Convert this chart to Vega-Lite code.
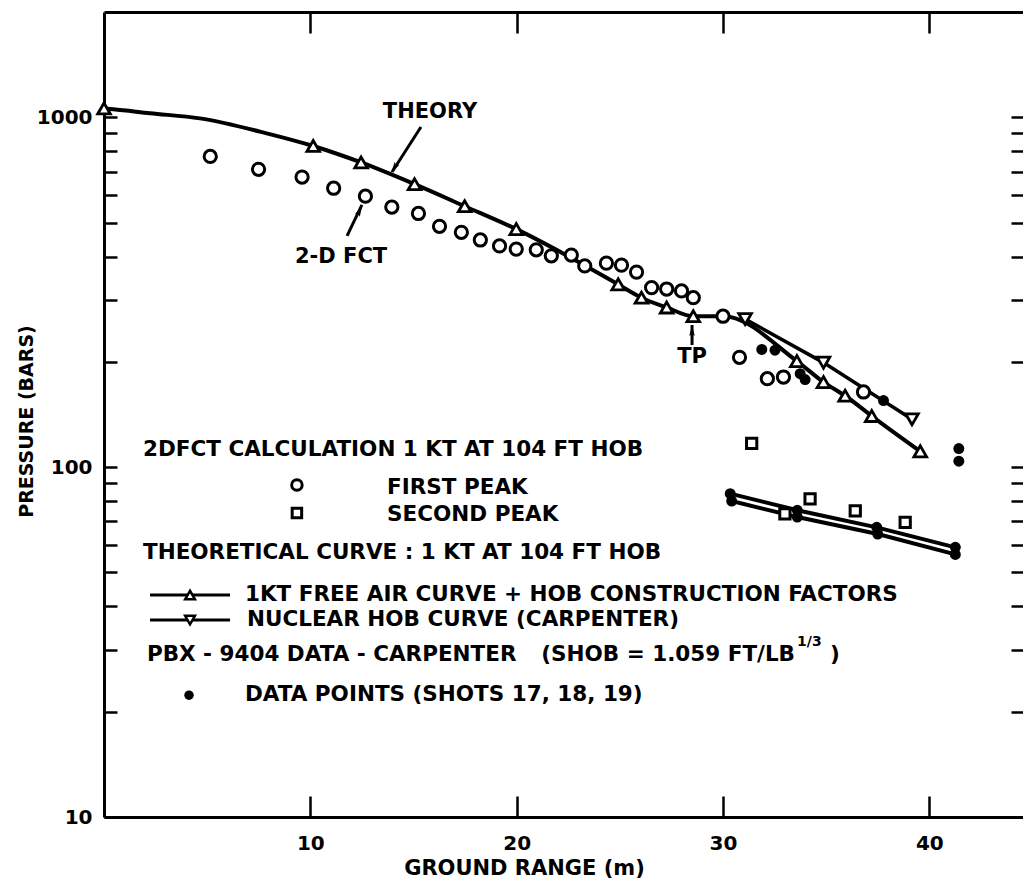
{
  "$schema": "https://vega.github.io/schema/vega-lite/v6.json",
  "width": 919,
  "height": 805,
  "autosize": {"type": "none"},
  "padding": {"left": 104, "top": 12, "right": 0, "bottom": 63},
  "background": "white",
  "config": {
    "view": {"stroke": null},
    "font": "DejaVu Sans",
    "axis": {
      "grid": false, "domainColor": "black", "domainWidth": 3, "tickColor": "black", "tickWidth": 2.5,
      "labelColor": "black", "labelFont": "DejaVu Sans", "labelFontWeight": "bold", "labelFontSize": 20,
      "titleColor": "black", "titleFont": "DejaVu Sans", "titleFontWeight": "bold", "titleFontSize": 20
    },
    "text": {"font": "DejaVu Sans", "fontWeight": "bold", "fontSize": 21.5, "color": "black"}
  },
  "datasets": {
    "first": [
      {"x": 5.15, "y": 773}, {"x": 7.49, "y": 710}, {"x": 9.6, "y": 675}, {"x": 11.13, "y": 627},
      {"x": 12.67, "y": 595}, {"x": 13.95, "y": 554}, {"x": 15.24, "y": 531}, {"x": 16.26, "y": 488},
      {"x": 17.32, "y": 469}, {"x": 18.24, "y": 446}, {"x": 19.17, "y": 429}, {"x": 19.98, "y": 420},
      {"x": 20.95, "y": 418}, {"x": 21.68, "y": 402}, {"x": 22.65, "y": 404}, {"x": 23.3, "y": 376},
      {"x": 24.35, "y": 383}, {"x": 25.08, "y": 378}, {"x": 25.81, "y": 361}, {"x": 26.54, "y": 326},
      {"x": 27.27, "y": 323}, {"x": 27.99, "y": 319}, {"x": 28.56, "y": 305}, {"x": 30.0, "y": 270},
      {"x": 30.8, "y": 206}, {"x": 32.15, "y": 179}, {"x": 32.93, "y": 181}, {"x": 36.81, "y": 164}
    ],
    "second": [
      {"x": 31.39, "y": 117}, {"x": 33.0, "y": 73.5}, {"x": 34.22, "y": 81.1}, {"x": 36.41, "y": 75}, {"x": 38.83, "y": 69.5}
    ],
    "dots": [
      {"x": 31.88, "y": 217}, {"x": 32.52, "y": 216}, {"x": 33.74, "y": 185}, {"x": 33.98, "y": 178},
      {"x": 37.78, "y": 155}, {"x": 41.43, "y": 113}, {"x": 41.43, "y": 104},
      {"x": 30.35, "y": 84}, {"x": 30.42, "y": 80}, {"x": 33.6, "y": 75.3}, {"x": 33.6, "y": 72},
      {"x": 37.45, "y": 67.3}, {"x": 37.5, "y": 64.4}, {"x": 41.26, "y": 59}, {"x": 41.26, "y": 56.3}
    ],
    "pbx": [
      {"s": "upper", "x": 30.35, "y": 84}, {"s": "upper", "x": 33.6, "y": 75.3}, {"s": "upper", "x": 37.45, "y": 67.3}, {"s": "upper", "x": 41.26, "y": 59},
      {"s": "lower", "x": 30.42, "y": 80}, {"s": "lower", "x": 33.6, "y": 72}, {"s": "lower", "x": 37.5, "y": 64.4}, {"s": "lower", "x": 41.26, "y": 56.3}
    ],
    "faLine": [
      {"x": 0, "y": 1060}, {"x": 0.45, "y": 1054}, {"x": 2.23, "y": 1027}, {"x": 4.65, "y": 993}, {"x": 7.885, "y": 900},
      {"x": 10.14, "y": 828}, {"x": 12.46, "y": 743}, {"x": 15.05, "y": 644}, {"x": 17.48, "y": 557},
      {"x": 19.98, "y": 479}, {"x": 24.92, "y": 333}, {"x": 26.05, "y": 305}, {"x": 27.27, "y": 286},
      {"x": 28.56, "y": 270}, {"x": 30.0, "y": 270}, {"x": 33.58, "y": 201}, {"x": 34.87, "y": 175},
      {"x": 35.92, "y": 160}, {"x": 37.21, "y": 140}, {"x": 39.56, "y": 111}
    ],
    "faTri": [
      {"x": 0, "y": 1060}, {"x": 10.14, "y": 828}, {"x": 12.46, "y": 743}, {"x": 15.05, "y": 644},
      {"x": 17.48, "y": 557}, {"x": 19.98, "y": 479}, {"x": 24.92, "y": 333}, {"x": 26.05, "y": 305},
      {"x": 27.27, "y": 286}, {"x": 28.56, "y": 270}, {"x": 33.58, "y": 201}, {"x": 34.87, "y": 175},
      {"x": 35.92, "y": 160}, {"x": 37.21, "y": 140}, {"x": 39.56, "y": 111}
    ],
    "nh": [
      {"x": 31.07, "y": 265}, {"x": 34.87, "y": 199}, {"x": 39.16, "y": 137}
    ],
    "arrows": [
      {"x": 15.36, "y": 938, "x2": 13.96, "y2": 698},
      {"x": 11.78, "y": 458, "x2": 12.5, "y2": 561.6},
      {"x": 28.5, "y": 223.4, "x2": 28.5, "y2": 254.8},
      {"x": 2.23, "y": 43.1, "x2": 6.11, "y2": 43.1},
      {"x": 2.23, "y": 36.55, "x2": 6.11, "y2": 36.55}
    ],
    "notes": [
      {"t": "THEORY", "x": 15.8, "y": 1035},
      {"t": "2-D FCT", "x": 11.49, "y": 398.6},
      {"t": "TP", "x": 28.5, "y": 206.5}
    ],
    "legendText": [
      {"t": "2DFCT CALCULATION 1 KT AT 104 FT HOB", "x": 1.89, "y": 111.9},
      {"t": "FIRST PEAK", "x": 13.72, "y": 87.2},
      {"t": "SECOND PEAK", "x": 13.72, "y": 72.95},
      {"t": "THEORETICAL CURVE : 1 KT AT 104 FT HOB", "x": 1.89, "y": 56.8},
      {"t": "1KT FREE AIR CURVE + HOB CONSTRUCTION FACTORS", "x": 6.83, "y": 43.1},
      {"t": "NUCLEAR HOB CURVE (CARPENTER)", "x": 6.93, "y": 36.55},
      {"t": "PBX - 9404 DATA - CARPENTER", "x": 2.08, "y": 29.0},
      {"t": ")", "x": 35.19, "y": 29.0},
      {"t": "DATA POINTS (SHOTS 17, 18, 19)", "x": 6.83, "y": 22.3}
    ],
    "legendTextRight": [
      {"t": "(SHOB = 1.059 FT/LB", "x": 33.49, "y": 29.0}
    ],
    "superscript": [
      {"t": "1/3", "x": 33.59, "y": 31.6}
    ]
  },
  "encoding": {
    "x": {"field": "x", "type": "quantitative", "scale": {"domain": [0, 44.54], "nice": false, "zero": false}, "axis": null},
    "y": {"field": "y", "type": "quantitative", "scale": {"type": "log", "domain": [10, 2000], "nice": false}, "axis": null}
  },
  "layer": [
    {
      "data": {"name": "pbx"},
      "mark": {"type": "line", "color": "black", "strokeWidth": 4},
      "encoding": {
        "detail": {"field": "s"},
        "x": {"field": "x", "type": "quantitative", "scale": {"domain": [0, 44.54], "nice": false, "zero": false},
          "axis": {"orient": "bottom", "values": [10, 20, 30, 40], "tickSize": -21, "labelPadding": 37,
            "title": "GROUND RANGE (m)", "titleX": 420, "titleY": 51, "titleBaseline": "middle", "titleAlign": "center",
            "titleFontSize": 21, "labelFlush": false, "labelOverlap": false}},
        "y": {"field": "y", "type": "quantitative", "scale": {"type": "log", "domain": [10, 2000], "nice": false},
          "axis": {"orient": "left", "values": [10, 20, 30, 40, 50, 60, 70, 80, 90, 100, 200, 300, 400, 500, 600, 700, 800, 900, 1000],
            "tickSize": -13, "labelPadding": 25, "labelOverlap": false,
            "labelExpr": "datum.value == 1000 ? '1000' : datum.value == 100 ? '100' : datum.value == 10 ? '10' : ''",
            "title": "PRESSURE (BARS)", "titleFontSize": 19, "titleX": -78, "titleY": 409, "titleAngle": -90, "titleAlign": "center", "titleBaseline": "middle"}}
      }
    },
    {
      "data": {"name": "faLine"},
      "mark": {"type": "line", "color": "black", "strokeWidth": 4, "interpolate": "monotone"},
      "encoding": {
        "x": {"field": "x", "type": "quantitative", "scale": {"domain": [0, 44.54], "nice": false, "zero": false},
          "axis": {"orient": "top", "values": [10, 20, 30, 40], "tickSize": -21, "labels": false, "title": null}},
        "y": {"field": "y", "type": "quantitative", "scale": {"type": "log", "domain": [10, 2000], "nice": false},
          "axis": {"orient": "right", "values": [20, 30, 40, 50, 60, 70, 80, 90, 100, 200, 300, 400, 500, 600, 700, 800, 900, 1000],
            "tickSize": -12, "labels": false, "domain": false, "title": null}}
      }
    },
    {
      "data": {"name": "nh"},
      "mark": {"type": "line", "color": "black", "strokeWidth": 3.5},
      "encoding": {}
    },
    {
      "data": {"name": "arrows"},
      "mark": {"type": "rule", "color": "black", "strokeWidth": 3},
      "encoding": {"x2": {"field": "x2"}, "y2": {"field": "y2"}}
    },
    {
      "data": {"name": "first"},
      "mark": {"type": "point", "shape": "circle", "filled": true, "fill": "white", "stroke": "black", "strokeWidth": 3, "size": 150, "opacity": 1}
    },
    {
      "data": {"values": [{"x": 9.35, "y": 88.9}]},
      "mark": {"type": "point", "shape": "circle", "filled": true, "fill": "white", "stroke": "black", "strokeWidth": 3, "size": 110, "opacity": 1}
    },
    {
      "data": {"name": "second"},
      "mark": {"type": "point", "shape": "square", "filled": true, "fill": "white", "stroke": "black", "strokeWidth": 3, "size": 105, "opacity": 1}
    },
    {
      "data": {"values": [{"x": 9.35, "y": 73.9}]},
      "mark": {"type": "point", "shape": "square", "filled": true, "fill": "white", "stroke": "black", "strokeWidth": 3, "size": 90, "opacity": 1}
    },
    {
      "data": {"name": "faTri"},
      "mark": {"type": "point", "shape": "triangle-up", "filled": true, "fill": "white", "stroke": "black", "strokeWidth": 2.8, "size": 160, "opacity": 1}
    },
    {
      "data": {"values": [{"x": 4.17, "y": 43.1}]},
      "mark": {"type": "point", "shape": "triangle-up", "filled": true, "fill": "white", "stroke": "black", "strokeWidth": 2.5, "size": 95, "opacity": 1}
    },
    {
      "data": {"name": "nh"},
      "mark": {"type": "point", "shape": "triangle-down", "filled": true, "fill": "white", "stroke": "black", "strokeWidth": 2.8, "size": 160, "opacity": 1}
    },
    {
      "data": {"values": [{"x": 4.17, "y": 36.55}]},
      "mark": {"type": "point", "shape": "triangle-down", "filled": true, "fill": "white", "stroke": "black", "strokeWidth": 2.5, "size": 95, "opacity": 1}
    },
    {
      "data": {"name": "dots"},
      "mark": {"type": "point", "shape": "circle", "filled": true, "color": "black", "size": 120, "opacity": 1}
    },
    {
      "data": {"values": [{"x": 4.12, "y": 22.3}]},
      "mark": {"type": "point", "shape": "circle", "filled": true, "color": "black", "size": 90, "opacity": 1}
    },
    {
      "data": {"values": [{"x": 14.1, "y": 722}]},
      "mark": {"type": "point", "shape": "M0,-1.3L0.5,0.7L0,0.35L-0.5,0.7Z", "angle": 213, "filled": true, "color": "black", "size": 120, "opacity": 1}
    },
    {
      "data": {"values": [{"x": 12.36, "y": 536}]},
      "mark": {"type": "point", "shape": "M0,-1.3L0.5,0.7L0,0.35L-0.5,0.7Z", "angle": 26, "filled": true, "color": "black", "size": 120, "opacity": 1}
    },
    {
      "data": {"values": [{"x": 28.5, "y": 243.3}]},
      "mark": {"type": "point", "shape": "M0,-1.3L0.5,0.7L0,0.35L-0.5,0.7Z", "angle": 0, "filled": true, "color": "black", "size": 120, "opacity": 1}
    },
    {
      "data": {"name": "notes"},
      "mark": {"type": "text", "align": "center", "baseline": "middle", "fontSize": 21},
      "encoding": {"text": {"field": "t"}}
    },
    {
      "data": {"name": "legendText"},
      "mark": {"type": "text", "align": "left", "baseline": "middle"},
      "encoding": {"text": {"field": "t"}}
    },
    {
      "data": {"name": "legendTextRight"},
      "mark": {"type": "text", "align": "right", "baseline": "middle"},
      "encoding": {"text": {"field": "t"}}
    },
    {
      "data": {"name": "superscript"},
      "mark": {"type": "text", "align": "left", "baseline": "middle", "fontSize": 14},
      "encoding": {"text": {"field": "t"}}
    }
  ],
  "resolve": {"axis": {"x": "independent", "y": "independent"}}
}
